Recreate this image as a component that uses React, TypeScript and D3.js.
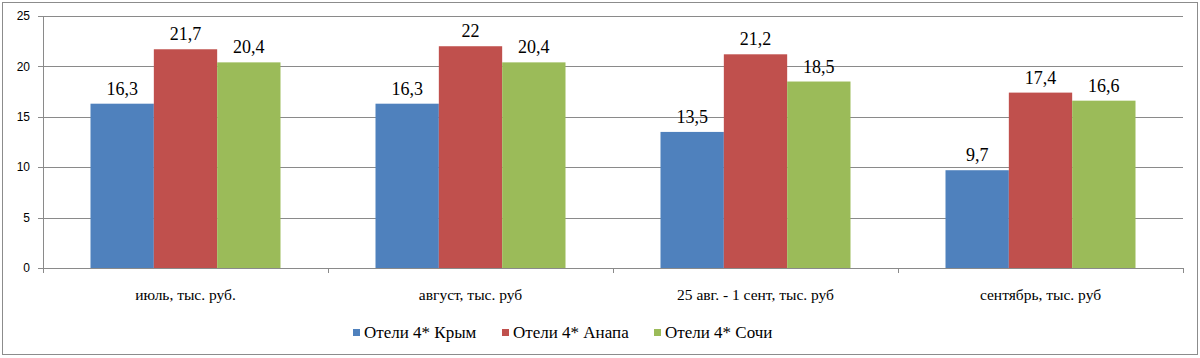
import React from "react";
import * as d3 from "d3";

const categories = ["июль, тыс. руб.", "август, тыс. руб", "25 авг. - 1 сент, тыс. руб", "сентябрь, тыс. руб"];
const seriesNames = ["Отели 4* Крым", "Отели 4* Анапа", "Отели 4* Сочи"];
const crimea = [16.3, 16.3, 13.5, 9.7];
const anapa = [21.7, 22, 21.2, 17.4];
const sochi = [20.4, 20.4, 18.5, 16.6];
const yTicks = [0, 5, 10, 15, 20, 25];
const colors = ["#4F81BD", "#C0504D", "#9BBB59"];

const W = 1200, H = 358;
const left = 43, right = 1183, top = 16, bottom = 268;
const serif = "Liberation Serif, Tinos, Times New Roman, DejaVu Serif, Noto Serif, serif";
const sans = "Liberation Sans, Arial, sans-serif";

export default function App() {
  const series = [crimea, anapa, sochi];
  const x = d3.scaleBand<string>().domain(categories).range([left, right]);
  const inner = d3.scaleBand<number>().domain([0, 1, 2]).range([0, x.bandwidth()]).paddingInner(0).paddingOuter(0.75);
  const y = d3.scaleLinear().domain([0, 25]).range([bottom, top]);
  const fmt = (v: number) => String(v).replace(".", ",");
  const legendX = [353, 502, 654];
  return (
    <svg width={W} height={H} style={{ position: "absolute", left: 0, top: 0 }}>
      <rect x={2.5} y={2.5} width={1195} height={352} fill="#fff" stroke="#8c8c8c" strokeWidth={1} />
      {yTicks.map((t) => (
        <g key={t}>
          {t > 0 && <line x1={left} x2={right} y1={Math.round(y(t)) + 0.5} y2={Math.round(y(t)) + 0.5} stroke="#8a8a8a" strokeWidth={1} />}
          <line x1={left - 5} x2={left} y1={Math.round(y(t)) + 0.5} y2={Math.round(y(t)) + 0.5} stroke="#8a8a8a" />
          <text x={left - 13} y={y(t)} dy="0.35em" textAnchor="end" style={{ fontFamily: sans, fontSize: 12 }} fill="#000">{t}</text>
        </g>
      ))}
      {series.map((vals, si) =>
        vals.map((v, ci) => {
          const bx = (x(categories[ci]) as number) + (inner(si) as number);
          return (
            <g key={si + "-" + ci}>
              <rect x={bx} y={y(v)} width={inner.bandwidth()} height={bottom - y(v)} fill={colors[si]} />
              <text x={bx + inner.bandwidth() / 2} y={y(v) - 9} textAnchor="middle" style={{ fontFamily: serif, fontSize: 18 }} fill="#000">{fmt(v)}</text>
            </g>
          );
        })
      )}
      <line x1={left + 0.5} x2={left + 0.5} y1={top} y2={bottom} stroke="#8a8a8a" />
      <line x1={left} x2={right} y1={bottom + 0.5} y2={bottom + 0.5} stroke="#8a8a8a" />
      {[...categories.map((c) => x(c) as number), right].map((p, i) => (
        <line key={i} x1={Math.round(p) + 0.5} x2={Math.round(p) + 0.5} y1={bottom} y2={bottom + 5} stroke="#8a8a8a" />
      ))}
      {categories.map((c) => (
        <text key={c} x={(x(c) as number) + x.bandwidth() / 2} y={300} textAnchor="middle" style={{ fontFamily: serif, fontSize: 15.5 }} fill="#000">{c}</text>
      ))}
      {seriesNames.map((n, i) => (
        <g key={n}>
          <rect x={legendX[i]} y={329} width={7} height={7} fill={colors[i]} />
          <text x={legendX[i] + 11} y={338} style={{ fontFamily: serif, fontSize: 17 }} fill="#000">{n}</text>
        </g>
      ))}
    </svg>
  );
}
